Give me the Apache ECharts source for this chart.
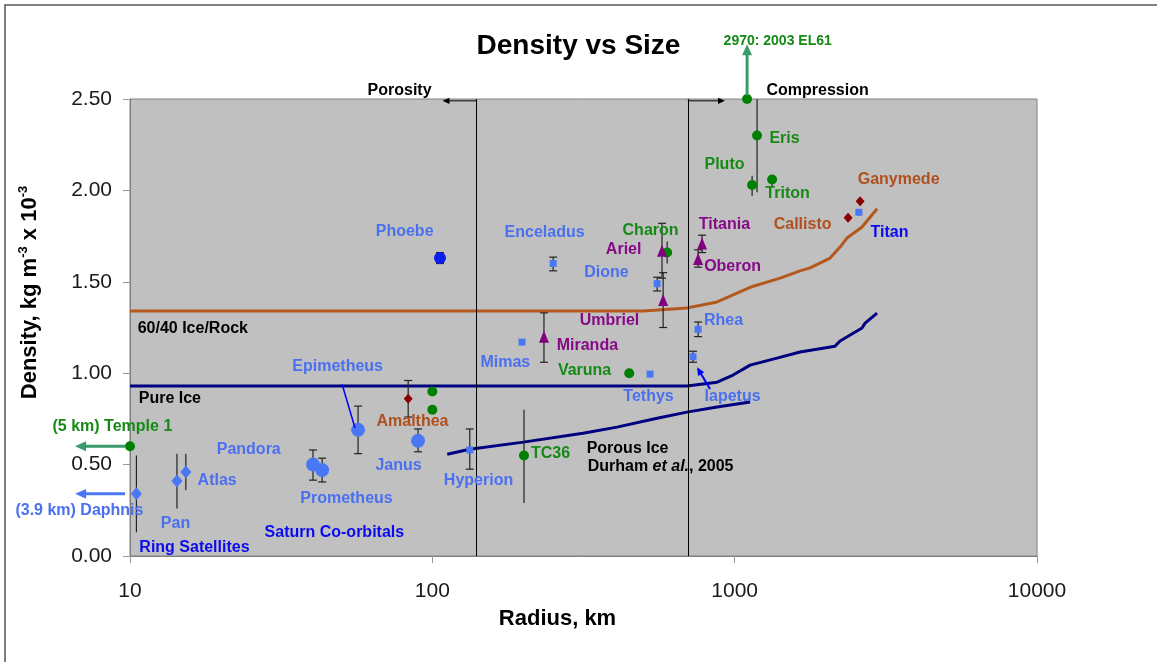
<!DOCTYPE html>
<html>
<head>
<meta charset="utf-8">
<title>Density vs Size</title>
<script src="https://cdn.jsdelivr.net/npm/echarts@6/dist/echarts.min.js"></script>
<style>
  html, body { margin: 0; padding: 0; background: #fff; }
  #main { width: 1157px; height: 662px; }
</style>
</head>
<body>
<div id="main"></div>
<script>
// rows: [name, radius km, density, errLow, errHigh]
var kbos = [
  ['Temple 1', 10, 0.60],
  ['', 100, 0.90],
  ['', 100, 0.80],
  ['TC36', 201, 0.55, 0.29, 0.80],
  ['Varuna', 448, 1.00],
  ['Charon', 598, 1.66, 1.60, 1.72],
  ['2003 EL61', 1099, 2.50],
  ['Pluto', 1142, 2.03, 1.97, 2.08],
  ['Eris', 1186, 2.30, 1.99, 2.50],
  ['Triton', 1330, 2.06, 2.02, 2.08]
];
var saturnSmall = [
  ['Hyperion', 133, 0.58, 0.475, 0.695],
  ['Mimas', 198, 1.17],
  ['Enceladus', 251, 1.60, 1.56, 1.635],
  ['Tethys', 525, 0.995],
  ['Dione', 554, 1.49, 1.45, 1.525],
  ['Iapetus', 728, 1.09, 1.06, 1.12],
  ['Rhea', 757, 1.24, 1.20, 1.28],
  ['Titan', 2575, 1.88]
];
var coOrbitals = [
  ['Prometheus', 40.3, 0.50, 0.415, 0.58],
  ['Pandora', 43.2, 0.47, 0.405, 0.535],
  ['Epimetheus', 56.8, 0.69, 0.56, 0.82],
  ['Janus', 89.7, 0.63, 0.57, 0.695]
];
var phoebe = [['Phoebe', 106, 1.63, 1.60, 1.66]];
var ringSats = [
  ['Daphnis', 10.5, 0.34, 0.13, 0.55],
  ['Pan', 14.3, 0.41, 0.26, 0.56],
  ['Atlas', 15.3, 0.46, 0.36, 0.56]
];
var uranus = [
  ['Miranda', 234, 1.20, 1.06, 1.33],
  ['Ariel', 575, 1.67, 1.52, 1.82],
  ['Umbriel', 580, 1.40, 1.25, 1.55],
  ['Oberon', 757, 1.625, 1.58, 1.675],
  ['Titania', 780, 1.71, 1.66, 1.755]
];
var jupiter = [
  ['Amalthea', 83.2, 0.86, 0.76, 0.96],
  ['Callisto', 2372, 1.85],
  ['Ganymede', 2600, 1.94]
];

// model curves [radius, density]
var iceRock = [[10, 1.34], [500, 1.34], [695, 1.357], [875, 1.39], [988, 1.428], [1125, 1.47],
  [1413, 1.52], [1645, 1.56], [1776, 1.576], [2069, 1.63], [2232, 1.69], [2354, 1.74], [2638, 1.80], [2958, 1.90]];
var pureIce = [[10, 0.93], [695, 0.93], [875, 0.951], [988, 0.99], [1125, 1.044], [1400, 1.085],
  [1645, 1.116], [2148, 1.148], [2232, 1.176], [2638, 1.247], [2700, 1.274], [2958, 1.329]];
var porousIce = [[112, 0.557], [133, 0.584], [200, 0.623], [315, 0.672], [408, 0.705], [554, 0.754],
  [695, 0.787], [875, 0.815], [1125, 0.842]];

var porosityR = 140, compressionR = 700;

// text notes [text, radius, density]
var greenNotes = [['Eris', 1468, 2.287], ['Pluto', 929, 2.145], ['Triton', 1502, 1.986], ['Charon', 529, 1.784],
  ['Varuna', 320, 1.017], ['TC36', 247, 0.568], ['(5 km) Temple 1', 8.78, 0.716]];
var el61Notes = [['2970: 2003 EL61', 1393, 2.824]];
var saturnNotes = [['Enceladus', 236, 1.773], ['Dione', 378, 1.554], ['Phoebe', 81.3, 1.778], ['Rhea', 922, 1.291],
  ['Mimas', 175, 1.061], ['Tethys', 521, 0.875], ['Iapetus', 988, 0.875], ['Epimetheus', 48.8, 1.039],
  ['Pandora', 24.8, 0.590], ['Janus', 77.6, 0.502], ['Atlas', 19.5, 0.420], ['Hyperion', 142.7, 0.420],
  ['Prometheus', 52.2, 0.321], ['Pan', 14.2, 0.185], ['(3.9 km) Daphnis', 6.83, 0.256]];
var purpleNotes = [['Titania', 929, 1.817], ['Ariel', 431, 1.680], ['Oberon', 988, 1.587], ['Umbriel', 387, 1.291],
  ['Miranda', 327, 1.159]];
var brownNotes = [['Ganymede', 3499, 2.063], ['Callisto', 1684, 1.817], ['Amalthea', 86.3, 0.738]];
var blueNotes = [['Titan', 3266, 1.773], ['Saturn Co-orbitals', 47.6, 0.135], ['Ring Satellites', 16.4, 0.053]];
var blackNotes = [['60/40 Ice/Rock', 16.2, 1.252], ['Pure Ice', 13.6, 0.869], ['Porous Ice', 444, 0.595],
  ['Durham {i|et al.}, 2005', 571, 0.497], ['Porosity', 78.2, 2.55], ['Compression', 1888, 2.55]];

// arrows [from, to, color, width, head]
var arrows = [
  [[porosityR, 2.49], [108, 2.49], '#000', 1, 7],
  [[compressionR, 2.49], [929, 2.49], '#000', 1, 7],
  [[1099, 2.52], [1099, 2.80], '#3A9A6A', 3, 11],
  [[9.63, 0.60], [6.58, 0.60], '#3A9A6A', 3, 11],
  [[9.63, 0.34], [6.58, 0.34], '#4A78F5', 3, 11],
  [[829, 0.913], [751, 1.033], '#0000FF', 2, 8],
  [[50.3, 0.94], [55.5, 0.70], '#0000FF', 1.5, 0]
];

var FONT = '"Liberation Sans", Arial, sans-serif';
var chart = echarts.init(document.getElementById('main'));

function markers(rows, symbol, size, color) {
  return {
    type: 'scatter', symbol: symbol, symbolSize: size, clip: false, z: 4, silent: true,
    itemStyle: { color: color, opacity: 1 },
    data: rows.map(function (r) { return [r[1], r[2]]; })
  };
}

function errBars(rows, cap) {
  return {
    type: 'custom', z: 3, silent: true, clip: false,
    encode: { x: 0, y: [1, 2] },
    data: rows.filter(function (r) { return r.length > 3; }).map(function (r) { return [r[1], r[3], r[4]]; }),
    renderItem: function (params, api) {
      var a = api.coord([api.value(0), api.value(1)]);
      var b = api.coord([api.value(0), api.value(2)]);
      var st = { stroke: '#222', lineWidth: 1.2 };
      var kids = [{ type: 'line', shape: { x1: a[0], y1: a[1], x2: b[0], y2: b[1] }, style: st }];
      if (cap) {
        kids.push({ type: 'line', shape: { x1: a[0] - 4, y1: a[1], x2: a[0] + 4, y2: a[1] }, style: st });
        kids.push({ type: 'line', shape: { x1: b[0] - 4, y1: b[1], x2: b[0] + 4, y2: b[1] }, style: st });
      }
      return { type: 'group', children: kids };
    }
  };
}

function notes(list, color, size) {
  return {
    type: 'scatter', symbolSize: 1, clip: false, silent: true, z: 6,
    itemStyle: { color: 'rgba(0,0,0,0)' },
    data: list.map(function (n) { return { value: [n[1], n[2]], name: n[0] }; }),
    label: {
      show: true, position: [0, 1.5], align: 'center', verticalAlign: 'middle', formatter: '{b}',
      color: color, fontSize: size, fontWeight: 'bold', fontFamily: FONT,
      textBorderWidth: 0, textBorderColor: 'transparent', opacity: 1,
      rich: { i: { fontStyle: 'italic', fontWeight: 'bold', fontSize: size, color: color, fontFamily: FONT, textBorderWidth: 0 } }
    },
    labelLayout: { hideOverlap: false }
  };
}

function curve(data, color) {
  return {
    type: 'line', data: data, showSymbol: false, symbol: 'none', silent: true, z: 2,
    lineStyle: { color: color, width: 3 }
  };
}

var option = {
  animation: false,
  title: {
    text: 'Density vs Size', left: 'center', top: 27,
    textStyle: { fontFamily: FONT, fontSize: 28, fontWeight: 'bold', color: '#000' }
  },
  grid: {
    left: 130, right: 120, top: 99, bottom: 106, show: true,
    backgroundColor: '#C0C0C0', borderColor: '#808080', borderWidth: 1
  },
  xAxis: {
    type: 'log', logBase: 10, min: 10, max: 10000,
    name: 'Radius, km', nameLocation: 'middle', nameGap: 52,
    nameTextStyle: { fontFamily: FONT, fontSize: 22, fontWeight: 'bold', color: '#000', padding: [0, 52, 0, 0] },
    axisLine: { lineStyle: { color: '#808080' } },
    axisTick: { show: true, length: 7, lineStyle: { color: '#999' } },
    minorTick: { show: false },
    splitLine: { show: false },
    axisLabel: {
      fontFamily: FONT, fontSize: 21, color: '#1a1a1a', margin: 25,
      formatter: function (v) { return String(Math.round(v)); }
    }
  },
  yAxis: {
    type: 'value', min: 0, max: 2.5, interval: 0.5,
    name: 'Density, kg m{sup|-3} x 10{sup|-3}', nameLocation: 'middle', nameGap: 87, nameRotate: 90,
    nameTextStyle: {
      fontFamily: FONT, fontSize: 22, fontWeight: 'bold', color: '#000', lineHeight: 26,
      padding: [0, 0, 0, 70],
      rich: { sup: { fontFamily: FONT, fontSize: 13, fontWeight: 'bold', color: '#000', lineHeight: 13, verticalAlign: 'top' } }
    },
    axisLine: { show: true, lineStyle: { color: '#808080' } },
    axisTick: { show: true, length: 7, lineStyle: { color: '#999' } },
    splitLine: { show: false },
    axisLabel: {
      fontFamily: FONT, fontSize: 21, color: '#1a1a1a', margin: 18,
      formatter: function (v) { return v.toFixed(2); }
    }
  },
  series: [
    {
      type: 'line', data: [], silent: true, z: 1,
      markLine: {
        silent: true, symbol: ['none', 'none'], label: { show: false },
        lineStyle: { color: '#000', width: 1, type: 'solid' },
        data: [
          [{ coord: [porosityR, 0] }, { coord: [porosityR, 2.5] }],
          [{ coord: [compressionR, 0] }, { coord: [compressionR, 2.5] }]
        ]
      }
    },
    curve(iceRock, '#B4581E'),
    curve(pureIce, '#000080'),
    curve(porousIce, '#000080'),
    errBars(kbos, false),
    errBars(ringSats, false),
    errBars(saturnSmall, true),
    errBars(coOrbitals, true),
    errBars(phoebe, true),
    errBars(uranus, true),
    errBars(jupiter, true),
    markers(kbos, 'circle', 10, '#008000'),
    markers(saturnSmall, 'rect', 7, '#4A78F5'),
    markers(coOrbitals, 'circle', 14, '#4A78F5'),
    markers(phoebe, 'circle', 12, '#0A1EF0'),
    markers(ringSats, 'diamond', [11, 13], '#4A78F5'),
    markers(uranus, 'triangle', [10, 12], '#800080'),
    markers(jupiter, 'diamond', [9, 10], '#8B0000'),
    notes(greenNotes, '#158A15', 16),
    notes(el61Notes, '#158A15', 14),
    notes(saturnNotes, '#4A70F0', 16),
    notes(purpleNotes, '#860A86', 16),
    notes(brownNotes, '#B0501E', 16),
    notes(blueNotes, '#0A0AF0', 16),
    notes(blackNotes, '#000', 16)
  ]
};

chart.setOption(option);

function arrowEls(from, to, color, width, head) {
  var a = chart.convertToPixel({ gridIndex: 0 }, from);
  var b = chart.convertToPixel({ gridIndex: 0 }, to);
  var ang = Math.atan2(b[1] - a[1], b[0] - a[0]);
  var cs = Math.cos(ang), sn = Math.sin(ang);
  var end = head ? [b[0] - head * 0.8 * cs, b[1] - head * 0.8 * sn] : b;
  var els = [{
    type: 'line', silent: true, z: 10,
    shape: { x1: a[0], y1: a[1], x2: end[0], y2: end[1] },
    style: { stroke: color, lineWidth: width }
  }];
  if (head) {
    var w = head * 0.45;
    els.push({
      type: 'polygon', silent: true, z: 10,
      shape: { points: [b, [b[0] - head * cs + w * sn, b[1] - head * sn - w * cs], [b[0] - head * cs - w * sn, b[1] - head * sn + w * cs]] },
      style: { fill: color }
    });
  }
  return els;
}

var graphics = [{
  type: 'rect', silent: true, z: 0,
  shape: { x: 5, y: 5, width: 1200, height: 700 },
  style: { fill: 'none', stroke: '#555', lineWidth: 1.5 }
}];
arrows.forEach(function (ar) {
  graphics = graphics.concat(arrowEls(ar[0], ar[1], ar[2], ar[3], ar[4]));
});
chart.setOption({ graphic: graphics });
</script>
</body>
</html>
